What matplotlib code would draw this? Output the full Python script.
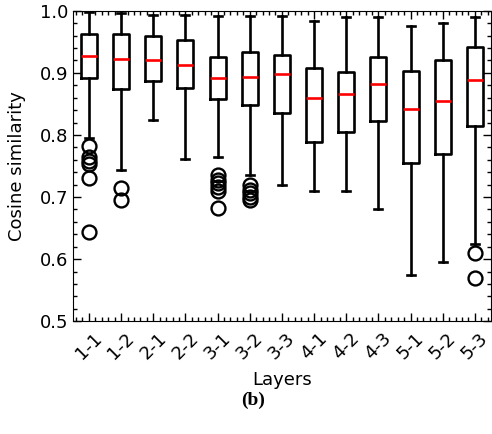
import matplotlib
matplotlib.use('Agg')
import matplotlib.pyplot as plt
from matplotlib.ticker import MultipleLocator

# box statistics
layers = ['1-1', '1-2', '2-1', '2-2', '3-1', '3-2', '3-3',
          '4-1', '4-2', '4-3', '5-1', '5-2', '5-3']
whislo = [0.795, 0.744, 0.824, 0.762, 0.765, 0.736, 0.719, 0.710, 0.710, 0.680, 0.574, 0.596, 0.625]
q1 = [0.892, 0.874, 0.887, 0.876, 0.858, 0.848, 0.835, 0.789, 0.804, 0.823, 0.755, 0.770, 0.814]
med = [0.928, 0.922, 0.921, 0.913, 0.892, 0.894, 0.898, 0.860, 0.866, 0.882, 0.842, 0.854, 0.888]
q3 = [0.963, 0.962, 0.959, 0.953, 0.926, 0.933, 0.929, 0.908, 0.901, 0.925, 0.903, 0.921, 0.941]
whishi = [0.998, 0.996, 0.994, 0.994, 0.991, 0.992, 0.992, 0.983, 0.990, 0.990, 0.976, 0.981, 0.990]
fliers = [
    [0.783, 0.765, 0.758, 0.753, 0.731, 0.644],
    [0.714, 0.695],
    [],
    [],
    [0.735, 0.728, 0.722, 0.716, 0.710, 0.682],
    [0.720, 0.712, 0.706, 0.700, 0.695],
    [], [], [], [], [], [],
    [0.610, 0.570],
]

stats = []
for i in range(len(layers)):
    stats.append({'label': layers[i], 'whislo': whislo[i], 'q1': q1[i], 'med': med[i],
                  'q3': q3[i], 'whishi': whishi[i], 'fliers': fliers[i]})

plt.rcParams['font.size'] = 13
fig = plt.figure(figsize=(4.92, 4.34), dpi=100)
ax = fig.add_axes([0.148, 0.26, 0.85, 0.715])

lw = 1.9
ax.bxp(stats, widths=0.5,
       boxprops=dict(color='black', linewidth=lw),
       whiskerprops=dict(color='black', linewidth=lw),
       capprops=dict(color='black', linewidth=lw),
       medianprops=dict(color='red', linewidth=lw),
       flierprops=dict(marker='o', markersize=10, markerfacecolor='none',
                       markeredgecolor='black', markeredgewidth=1.7))

ax.set_xlim(0.5, len(layers) + 0.5)
ax.set_ylim(0.5, 1.0)
ax.yaxis.set_major_locator(MultipleLocator(0.1))
ax.yaxis.set_minor_locator(MultipleLocator(0.02))
ax.xaxis.set_minor_locator(MultipleLocator(0.2))
ax.tick_params(which='both', direction='in', top=True, right=True)
ax.tick_params(which='major', length=6, width=1)
ax.tick_params(which='minor', length=3, width=1)
ax.tick_params(axis='x', which='major', pad=6)
ax.set_xticklabels(layers, rotation=45, ha='center')
ax.set_xlabel('Layers', labelpad=6)
ax.set_ylabel('Cosine similarity', labelpad=10)

fig.text(0.514, 0.078, '(b)', ha='center', va='center', fontsize=14,
         fontweight='bold', family='Liberation Serif')

fig.savefig('out.png')
